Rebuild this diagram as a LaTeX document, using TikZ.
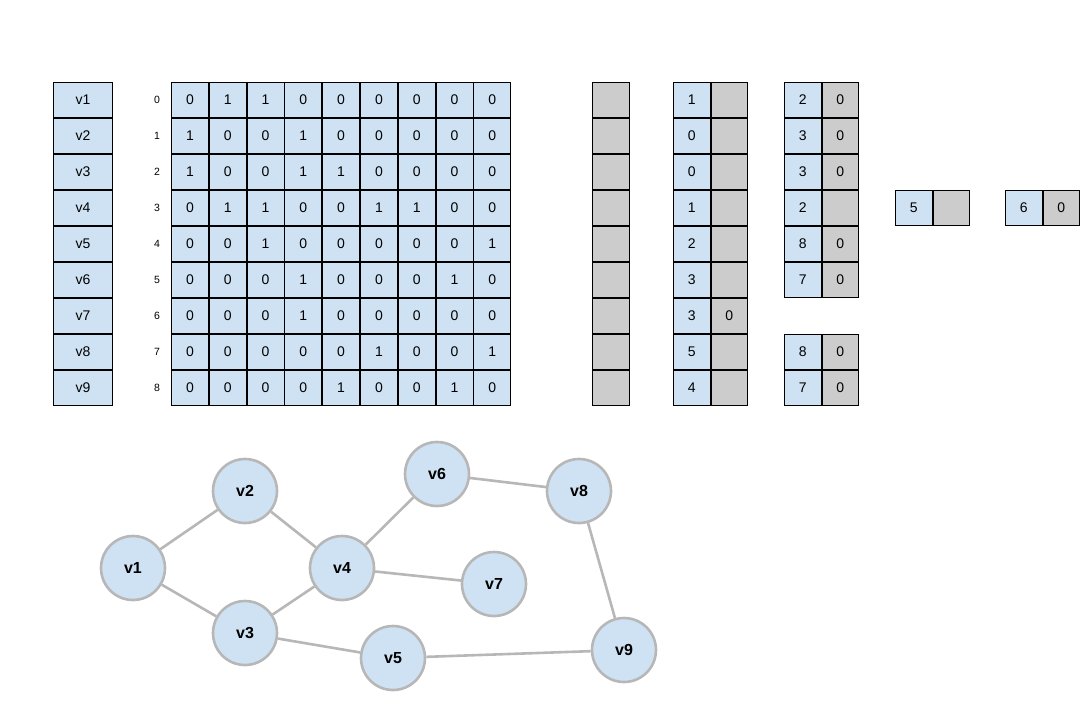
\documentclass[tikz,border=0pt]{standalone}
\usepackage{fontspec}
\setmainfont{Liberation Sans}
\usetikzlibrary{matrix}
\definecolor{cellblue}{HTML}{CFE2F3}
\definecolor{cellgray}{HTML}{CCCCCC}
\definecolor{edgegray}{HTML}{B7B7B7}
\newcommand{\cellfont}{\fontsize{14}{16}\selectfont}
\newcommand{\idxfont}{\fontsize{10.5}{12}\selectfont}
\tikzset{
  cell/.style={draw, line width=0.9pt, fill=cellblue, minimum width=36.9pt, minimum height=35.1pt, inner sep=0pt, outer sep=0pt, anchor=center, font=\cellfont},
  gcell/.style={cell, fill=cellgray},
  tbl/.style={matrix of nodes, anchor=north west, inner sep=0pt, outer sep=0pt, row sep=0pt, column sep=0pt, nodes in empty cells},
  vert/.style={circle, draw=edgegray, line width=2.6pt, fill=cellblue, minimum size=64pt, inner sep=0pt, font=\bfseries\fontsize{16}{18}\selectfont}
}

\begin{document}
\begin{tikzpicture}[x=1pt,y=-1pt]
\useasboundingbox (0,0) rectangle (1089,724);
\matrix (names) [tbl, nodes={cell, minimum width=59.1pt}] at (53,82)
{
	v1 \\ v2 \\ v3 \\ v4 \\ v5 \\ v6 \\ v7 \\ v8 \\ v9 \\};
\matrix (adj) [tbl, nodes={cell}, column 1/.style={nodes={draw=none, fill=none, minimum width=28pt, font=\idxfont}}] at (143,82)
{
	0 & 0 & 1 & 1 & 0 & 0 & 0 & 0 & 0 & 0 \\
	1 & 1 & 0 & 0 & 1 & 0 & 0 & 0 & 0 & 0 \\
	2 & 1 & 0 & 0 & 1 & 1 & 0 & 0 & 0 & 0 \\
	3 & 0 & 1 & 1 & 0 & 0 & 1 & 1 & 0 & 0 \\
	4 & 0 & 0 & 1 & 0 & 0 & 0 & 0 & 0 & 1 \\
	5 & 0 & 0 & 0 & 1 & 0 & 0 & 0 & 1 & 0 \\
	6 & 0 & 0 & 0 & 1 & 0 & 0 & 0 & 0 & 0 \\
	7 & 0 & 0 & 0 & 0 & 0 & 1 & 0 & 0 & 1 \\
	8 & 0 & 0 & 0 & 0 & 1 & 0 & 0 & 1 & 0 \\};
% lists
\matrix (heads) [tbl, nodes={gcell, minimum width=36.6pt}] at (592,82)
{
	\\ \\ \\ \\ \\ \\ \\ \\ \\};
\matrix (lsta) [tbl, nodes={cell, minimum width=36.6pt}, column 2/.style={nodes={gcell, minimum width=36.6pt}}] at (673,82)
{
	1 & \\ 0 & \\ 0 & \\ 1 & \\ 2 & \\ 3 & \\ 3 & 0 \\ 5 & \\ 4 & \\};
\matrix (lstb) [tbl, nodes={cell, minimum width=36.6pt}, column 2/.style={nodes={gcell, minimum width=36.6pt}}] at (784,82)
{
	2 & 0 \\ 3 & 0 \\ 3 & 0 \\ 2 & \\ 8 & 0 \\ 7 & 0 \\};
\matrix (lstc) [tbl, nodes={cell, minimum width=36.6pt}, column 2/.style={nodes={gcell, minimum width=36.6pt}}] at (784,334)
{
	8 & 0 \\ 7 & 0 \\};
\matrix (lstd) [tbl, nodes={cell, minimum width=36.6pt}, column 2/.style={nodes={gcell, minimum width=36.6pt}}] at (895,190)
{
	5 & \\};
\matrix (lste) [tbl, nodes={cell, minimum width=36.6pt}, column 2/.style={nodes={gcell, minimum width=36.6pt}}] at (1005,190)
{
	6 & 0 \\};
% graph
\node[vert] (v1) at (133,568) {v1};
\node[vert] (v2) at (245,491) {v2};
\node[vert] (v3) at (245,633) {v3};
\node[vert] (v4) at (342,568) {v4};
\node[vert] (v5) at (393,658) {v5};
\node[vert] (v6) at (437,474) {v6};
\node[vert] (v7) at (494,584) {v7};
\node[vert] (v8) at (579,491) {v8};
\node[vert] (v9) at (624,650) {v9};
\path[draw=edgegray, line width=2.6pt]
(v1) edge (v2)
(v1) edge (v3)
(v2) edge (v4)
(v3) edge (v4)
(v3) edge (v5)
(v4) edge (v6)
(v4) edge (v7)
(v6) edge (v8)
(v8) edge (v9)
(v5) edge (v9);
\end{tikzpicture}
\end{document}
